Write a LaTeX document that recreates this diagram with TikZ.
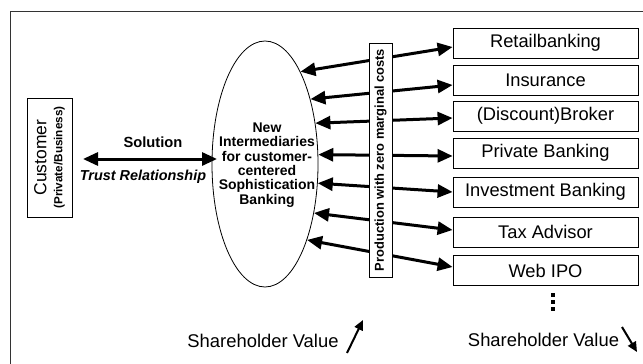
\documentclass[tikz,border=0pt]{standalone}
\usepackage{fontspec}
\setmainfont{Liberation Sans}
\usetikzlibrary{arrows.meta,shapes.geometric}
\pgfdeclarelayer{bg}
\pgfsetlayers{bg,main}
\begin{document}
\begin{tikzpicture}[x=1pt,y=-1pt,
  box/.style={draw, line width=0.8pt, fill=white, minimum width=185, minimum height=30, inner sep=0, font=\fontsize{18.3}{20}\selectfont},
  dbl/.style={line width=3pt, {Triangle[length=15pt,width=13pt]}-{Triangle[length=15pt,width=13pt]}},
  sv/.style={line width=2pt, -{Triangle[length=10pt,width=9pt]}},
  svtext/.style={font=\fontsize{18.4}{20}\selectfont, inner sep=0},
  dot/.style={fill, minimum size=3.2, inner sep=0}]
\useasboundingbox (0,0) rectangle (643,364);
\clip (0,0) rectangle (643,364);
\draw[line width=0.9pt, draw=black!80] (10,11) rectangle (700,400);

% customer
\node[draw, line width=0.8pt, rotate=90, minimum width=119, minimum height=45, inner sep=0, align=center,
      font=\bfseries\fontsize{11.7}{16}\selectfont] (cust) at (49.5,157.5)
  {{\mdseries\fontsize{17.5}{16}\selectfont Customer}\\(Private/Business)};

% ellipse
\node[draw, ellipse, line width=0.8pt, minimum width=106, minimum height=246, inner sep=0] (ell) at (265,164) {};
\node[align=center, inner sep=0, font=\bfseries\fontsize{14}{14.3}\selectfont] (elltxt) at (267,165)
  {New\\Intermediaries\\for customer-\\centered\\Sophistication\\Banking};

% solution arrow
\coordinate (sl) at (83,159);
\coordinate (sr) at (217,159);
\draw[dbl] (sl) -- (sr);
\node[font=\bfseries\fontsize{14.7}{16}\selectfont, inner sep=0] (soltxt) at (153,142) {Solution};
\node[font=\bfseries\itshape\fontsize{14.4}{16}\selectfont, inner sep=0] (trusttxt) at (143,177) {Trust Relationship};

% production box
\node[draw, line width=0.8pt, fill=white, rotate=90, minimum width=234, minimum height=23, inner sep=0,
      font=\bfseries\fontsize{12.9}{14}\selectfont] (prod) at (380.5,160) {Production with zero marginal costs};

% right boxes
\node[box] (r1) at (545.5,43) {Retailbanking};
\node[box] (r2) at (545.5,80) {Insurance};
\node[box] (r3) at (545.5,116) {(Discount)Broker};
\node[box] (r4) at (545.5,153) {Private Banking};
\node[box] (r5) at (545.5,192) {Investment Banking};
\node[box] (r6) at (545.5,232) {Tax Advisor};
\node[box] (r7) at (545.5,270.5) {Web IPO};

\begin{pgfonlayer}{bg}
\draw[dbl] (ell.69) -- ([yshift=-4pt]r1.west);
\draw[dbl] (ell.55) -- ([yshift=-5pt]r2.west);
\draw[dbl] (ell.39) -- ([yshift=-2pt]r3.west);
\draw[dbl] (ell.10) -- ([yshift=-3pt]r4.west);
\draw[dbl] (ell.-20) -- (r5.west);
\draw[dbl] (ell.-45) -- ([yshift=2pt]r6.west);
\draw[dbl] (ell.-61) -- ([yshift=3.5pt]r7.west);
\end{pgfonlayer}

% dots
\node[dot] (d1) at (553,295) {};
\node[dot] (d2) at (553,302) {};
\node[dot] (d3) at (553,309) {};

% shareholder value
\node[svtext] (sv1) at (263,341) {Shareholder Value};
\node[svtext] (sv2) at (543.5,340) {Shareholder Value};
\coordinate (a1s) at (347,353);
\coordinate (a1e) at (363,320);
\draw[sv] (a1s) -- (a1e);
\coordinate (a2s) at (622,327);
\coordinate (a2e) at (637,352);
\draw[sv] (a2s) -- (a2e);
\end{tikzpicture}
\end{document}
